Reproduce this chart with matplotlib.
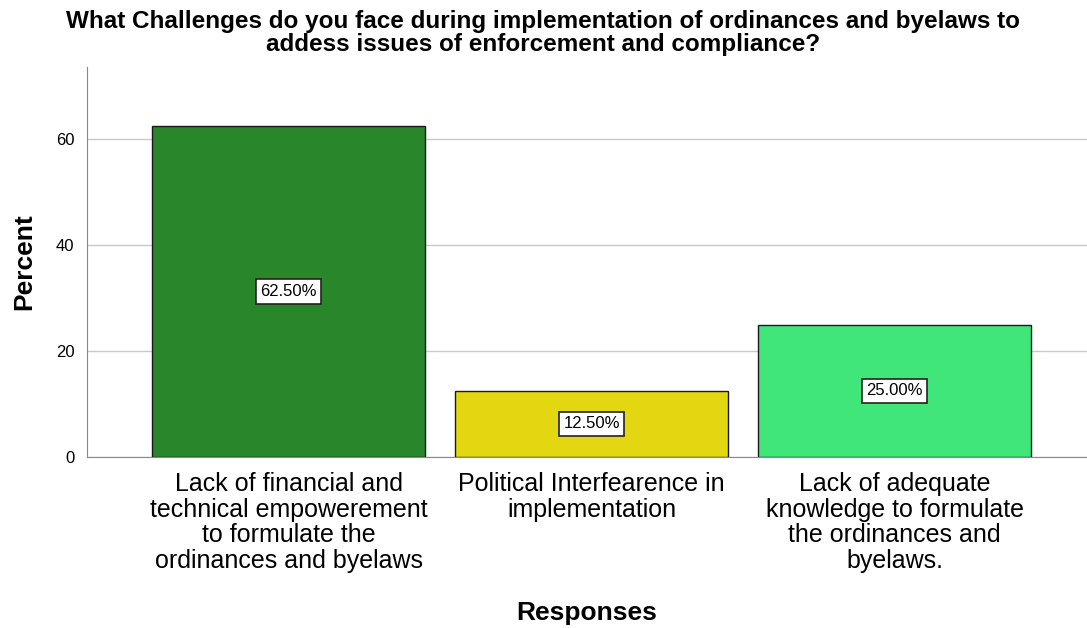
import matplotlib
matplotlib.use('Agg')
import matplotlib.pyplot as plt

plt.rcParams['font.family'] = ['Liberation Sans', 'DejaVu Sans']

responses = [
    'Lack of financial and\ntechnical empowerement\nto formulate the\nordinances and byelaws',
    'Political Interfearence in\nimplementation',
    'Lack of adequate\nknowledge to formulate\nthe ordinances and\nbyelaws.',
]
percents = [62.5, 12.5, 25.0]
colors = ['#2a862a', '#e3d712', '#40e67a']

fig = plt.figure(figsize=(10.87, 6.28), dpi=100)
ax = fig.add_axes([87 / 1087, 1 - 457 / 628, 1000 / 1087, 390 / 628])

x = range(len(percents))
bars = ax.bar(x, percents, width=0.9, color=colors, edgecolor='#1a1a1a', linewidth=1, zorder=3)

for xi, val in zip(x, percents):
    ax.text(xi, val / 2, f'{val:.2f}%', ha='center', va='center', fontsize=12, zorder=4,
            bbox=dict(boxstyle='square,pad=0.28', facecolor='white', edgecolor='#222222', linewidth=1.2))

ax.set_xlim(-0.665, 2.635)
ax.set_ylim(0, 73.6)
ax.set_yticks([0, 20, 40, 60])
ax.set_xticks(list(x))
ax.set_xticklabels(responses, fontsize=18, linespacing=1.08)
ax.tick_params(axis='x', length=0, pad=11)
ax.tick_params(axis='y', length=0, labelsize=12, pad=9)
ax.yaxis.grid(True, color='#c8c8c8', linewidth=1, zorder=0)

for side in ['top', 'right']:
    ax.spines[side].set_visible(False)
ax.spines['left'].set_color('#888888')
ax.spines['bottom'].set_color('#888888')

ax.set_ylabel('Percent', fontsize=19, fontweight='bold', labelpad=14)
ax.set_xlabel('Responses', fontsize=19, fontweight='bold', labelpad=20)
fig.text(0.5, 0.984, 'What Challenges do you face during implementation of ordinances and byelaws to\naddess issues of enforcement and compliance?',
         ha='center', va='top', fontsize=17.5, fontweight='bold', linespacing=1.02)

fig.savefig('out.png', dpi=100)
